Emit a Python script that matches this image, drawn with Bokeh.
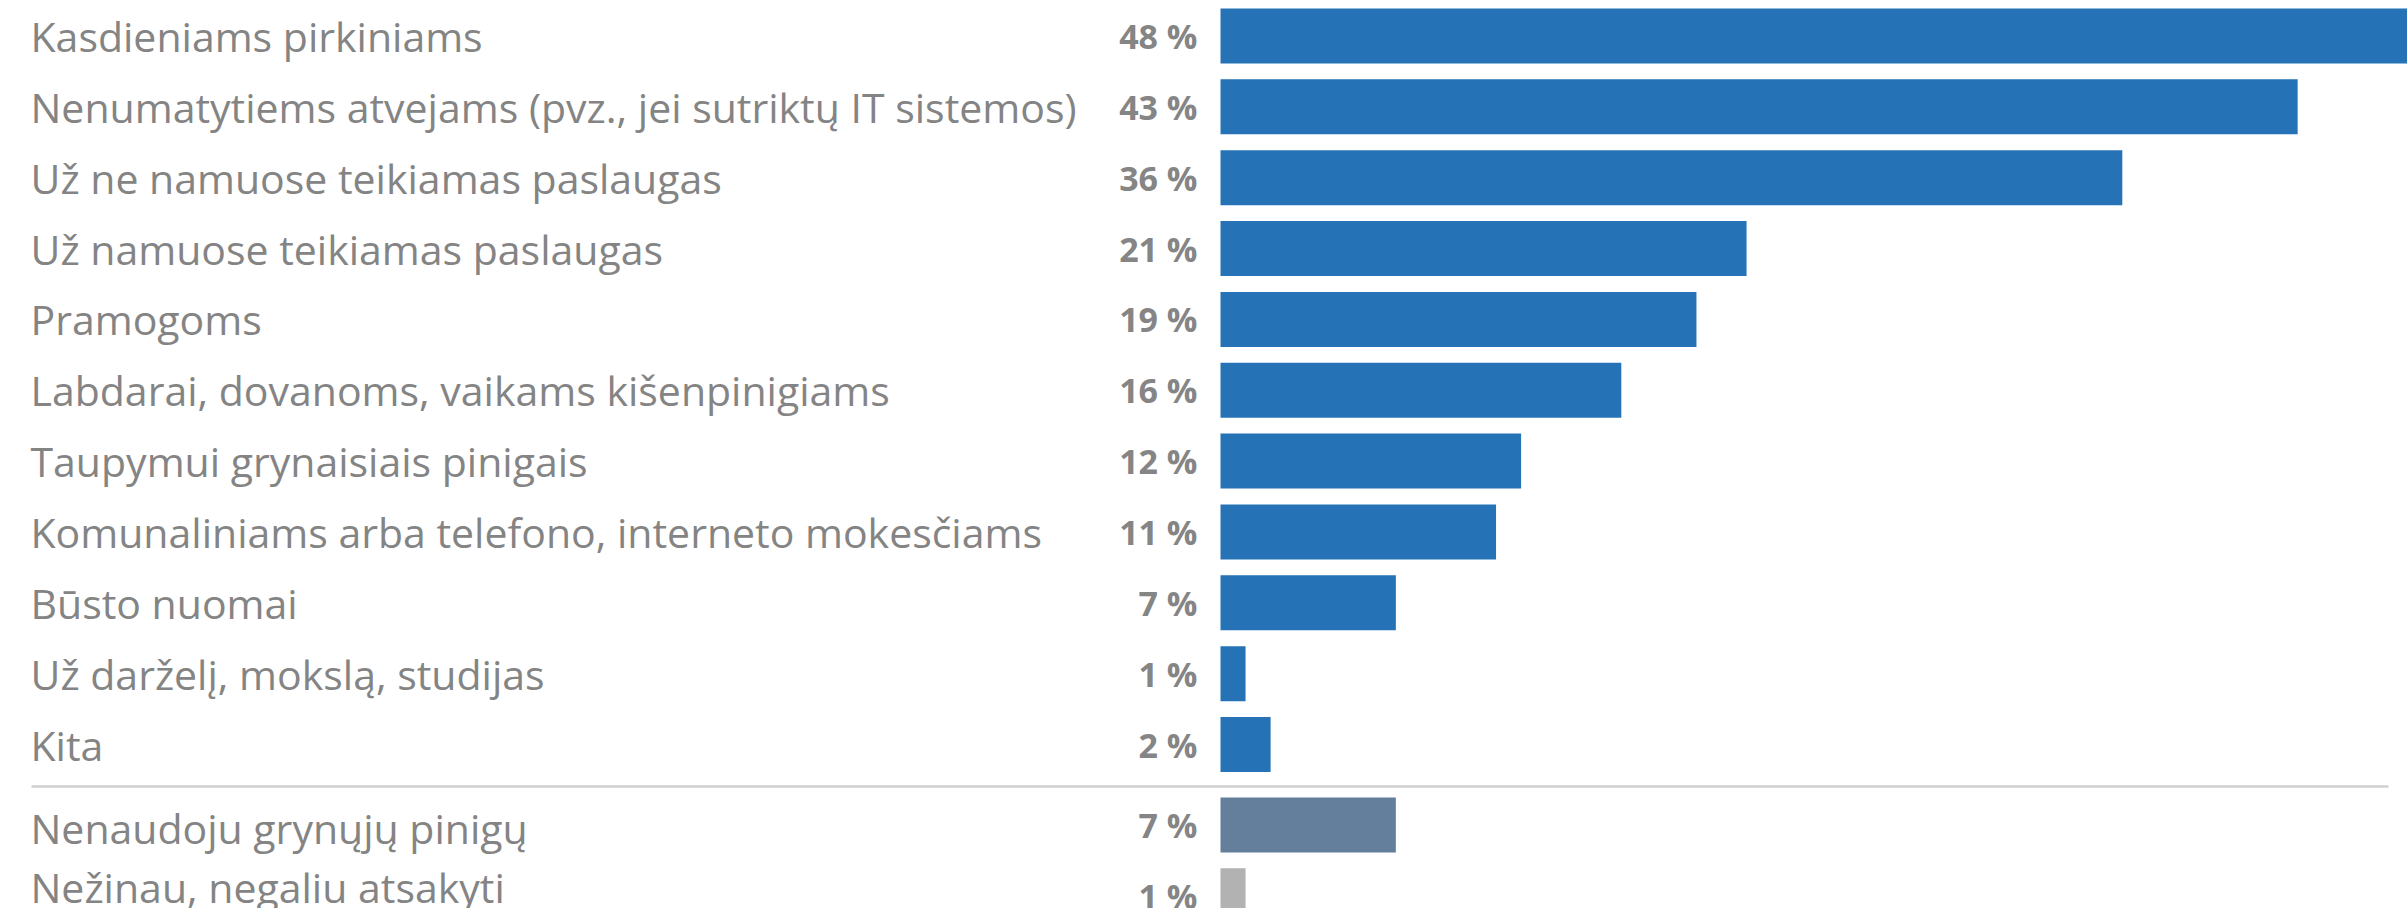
from bokeh.plotting import figure
from bokeh.models import Range1d, ColumnDataSource
from bokeh.core.properties import value
from bokeh.embed import file_html
from bokeh.resources import INLINE

# ---- data ----
categories = [
    "Kasdieniams pirkiniams",
    "Nenumatytiems atvejams (pvz., jei sutriktų IT sistemos)",
    "Už ne namuose teikiamas paslaugas",
    "Už namuose teikiamas paslaugas",
    "Pramogoms",
    "Labdarai, dovanoms, vaikams kišenpinigiams",
    "Taupymui grynaisiais pinigais",
    "Komunaliniams arba telefono, interneto mokesčiams",
    "Būsto nuomai",
    "Už darželį, mokslą, studijas",
    "Kita",
]
values = [48, 43, 36, 21, 19, 16, 12, 11, 7, 1, 2]

other_categories = ["Nenaudoju grynųjų pinigų", "Nežinau, negaliu atsakyti"]
other_values = [7, 1]

# ---- style / layout ----
W, H = 2407, 908
PX_PER_PCT = 25.05
X_ORIGIN_PX = 1220
PITCH = 70.85
TOP_PX = 35.5
BAR_H = 55 / PITCH
GROUP_GAP = 0.136
SEP_PX = 786
MAIN_COLOR = "#2572b6"
OTHER_COLORS = ["#637f9b", "#b2b2b2"]
TEXT_COLOR = "#848484"
VAL_COLOR = "#858585"
LABEL_FONT = "'Open Sans', sans-serif"
VAL_FONT = "'Open Sans', sans-serif"

x_start = -X_ORIGIN_PX / PX_PER_PCT
x_end = (W - X_ORIGIN_PX) / PX_PER_PCT
y_top = -TOP_PX / PITCH
y_bottom = y_top + H / PITCH

p = figure(width=W, height=H, output_backend="svg", toolbar_location=None,
           x_range=Range1d(x_start, x_end), y_range=Range1d(y_bottom, y_top),
           x_axis_location=None, y_axis_location=None, min_border=0,
           outline_line_color=None, background_fill_color="white",
           border_fill_color="white")
p.grid.visible = False

n = len(categories)
main_y = list(range(n))
other_y = [n + GROUP_GAP + j for j in range(len(other_categories))]

main_src = ColumnDataSource(dict(
    y=main_y, v=values, cat=categories,
    lab=[f"{v} %" for v in values]))
other_src = ColumnDataSource(dict(
    y=other_y, v=other_values, cat=other_categories, color=OTHER_COLORS,
    lab=[f"{v} %" for v in other_values]))

p.hbar(y="y", left=0, right="v", height=BAR_H, color=MAIN_COLOR,
       line_color=None, source=main_src)
p.hbar(y="y", left=0, right="v", height=BAR_H, fill_color="color",
       line_color=None, source=other_src)

# separator line
sep_y = (SEP_PX - TOP_PX) / PITCH
p.segment(x0=(31 - X_ORIGIN_PX) / PX_PER_PCT, x1=(2388 - X_ORIGIN_PX) / PX_PER_PCT,
          y0=sep_y, y1=sep_y, line_color="#d0d0d0", line_width=2.5)

label_kw = dict(text_font=value(LABEL_FONT), text_font_size="41px",
                text_color=TEXT_COLOR, text_align="left",
                text_baseline="alphabetic", x_offset=30)
p.text(x=x_start, y="y", text="cat", y_offset=0, source=main_src, **label_kw)
p.text(x=x_start, y=other_y[0], text=[other_categories[0]], y_offset=3, **label_kw)
p.text(x=x_start, y=other_y[1], text=[other_categories[1]], y_offset=-9, **label_kw)

val_kw = dict(text_font=value(VAL_FONT), text_font_size="34px",
              text_font_style="bold", text_color=VAL_COLOR,
              text_align="right", text_baseline="alphabetic",
              x_offset=-23, y_offset=0)
p.text(x=0, y="y", text="lab", source=main_src, **val_kw)
p.text(x=0, y="y", text="lab", source=other_src, **val_kw)

open("out.html", "w").write(file_html(p, INLINE))
